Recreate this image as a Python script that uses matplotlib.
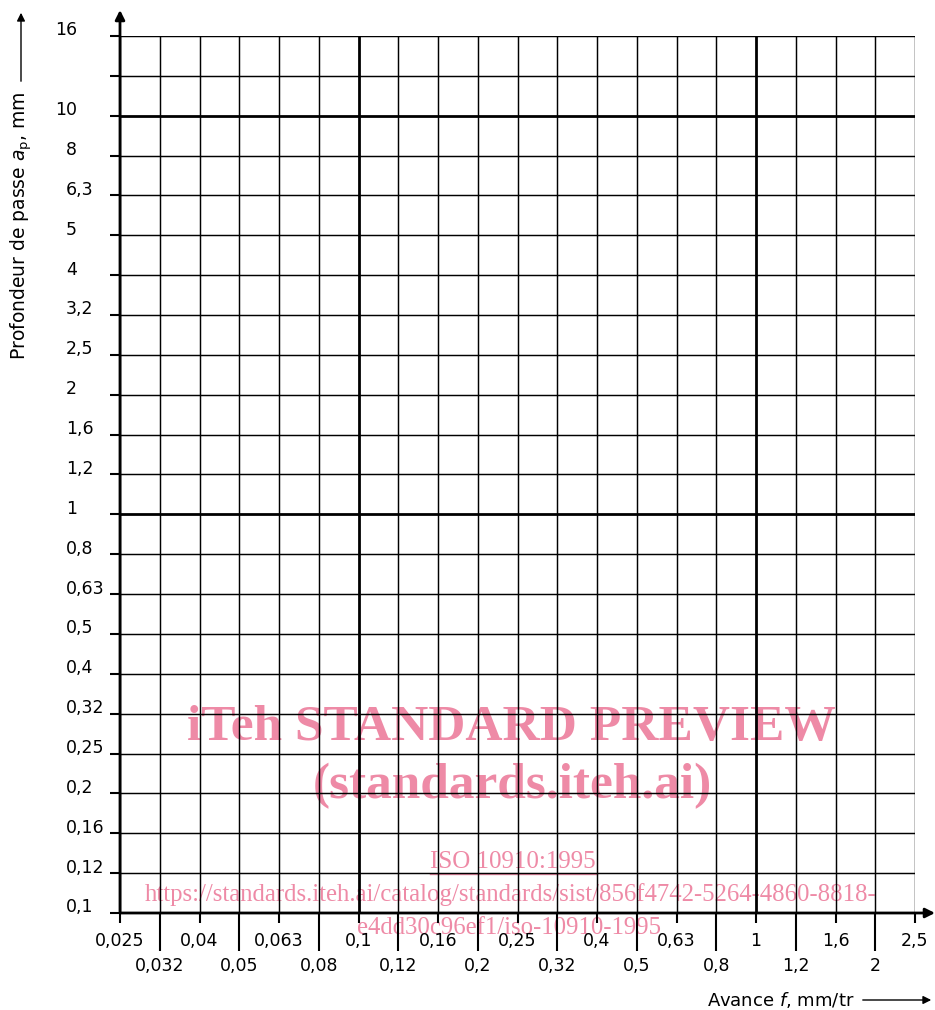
import numpy as np
import matplotlib
matplotlib.use("Agg")
import matplotlib.pyplot as plt

# Feed values on the x axis (mm/tr), equally spaced columns.
x_vals = [0.025, 0.032, 0.04, 0.05, 0.063, 0.08, 0.1, 0.12, 0.16, 0.2, 0.25,
          0.32, 0.4, 0.5, 0.63, 0.8, 1, 1.2, 1.6, 2, 2.5]
x_labels = ["0,025", "0,032", "0,04", "0,05", "0,063", "0,08", "0,1", "0,12",
            "0,16", "0,2", "0,25", "0,32", "0,4", "0,5", "0,63", "0,8", "1",
            "1,2", "1,6", "2", "2,5"]
# Depth of cut on the y axis (mm), equally spaced rows.
y_vals = [0.1, 0.12, 0.16, 0.2, 0.25, 0.32, 0.4, 0.5, 0.63, 0.8, 1, 1.2, 1.6,
          2, 2.5, 3.2, 4, 5, 6.3, 8, 10, 12.5, 16]
y_labels = ["0,1", "0,12", "0,16", "0,2", "0,25", "0,32", "0,4", "0,5", "0,63",
            "0,8", "1", "1,2", "1,6", "2", "2,5", "3,2", "4", "5", "6,3", "8",
            "10", "", "16"]
# Heavy grid lines
x_heavy = [0.1, 1]
y_heavy = [1, 10]

W, H = 935, 1010
fig = plt.figure(figsize=(W / 100, H / 100), dpi=100)
left, right, top, bottom = 120, 915, 36, 913
ax = fig.add_axes([left / W, 1 - bottom / H, (right - left) / W, (bottom - top) / H])
ax.patch.set_visible(False)

xi = np.arange(len(x_vals))
yi = np.arange(len(y_vals))
ax.set_xlim(0, len(x_vals) - 1)
ax.set_ylim(0, len(y_vals) - 1)

for i, v in zip(xi, x_vals):
    lw = 2.0 if v in x_heavy else 1.05
    ax.axvline(i, color="black", lw=lw, zorder=1)
for i, v in zip(yi, y_vals):
    lw = 2.0 if v in y_heavy else 1.05
    ax.axhline(i, color="black", lw=lw, zorder=1)

for s in ax.spines.values():
    s.set_visible(False)

# y ticks and labels
ax.set_yticks(yi)
ax.set_yticklabels([])
ax.tick_params(axis="y", direction="out", length=7, width=1.5, color="black")
ytr = ax.get_yaxis_transform()
for i, lab in zip(yi, y_labels):
    xpos = -0.082 if len(lab) == 2 and "," not in lab else -0.068
    ax.text(xpos, i + 0.14, lab, transform=ytr, ha="left", va="center",
            fontsize=12.5, family="DejaVu Sans")

# x ticks: short for upper row, long for lower row
ax.set_xticks(xi[::2])
ax.set_xticks(xi[1::2], minor=True)
ax.set_xticklabels([])
ax.tick_params(axis="x", which="major", direction="out", length=7, width=1.5)
ax.tick_params(axis="x", which="minor", direction="out", length=27, width=1.5)
xtr = ax.get_xaxis_transform()
for i, lab in zip(xi, x_labels):
    ypos = -0.032 if i % 2 == 0 else -0.06
    ax.text(i, ypos, lab, transform=xtr, ha="center", va="center",
            fontsize=12.5, family="DejaVu Sans")

# axes with arrows
ax.annotate("", xy=(0, 1 + 26 / 877), xytext=(0, 0), xycoords="axes fraction",
            arrowprops=dict(arrowstyle="-|>", color="black", lw=2.0,
                            mutation_scale=14, shrinkA=0, shrinkB=0),
            annotation_clip=False)
ax.annotate("", xy=(1 + 20 / 795, 0), xytext=(0, 0), xycoords="axes fraction",
            arrowprops=dict(arrowstyle="-|>", color="black", lw=2.0,
                            mutation_scale=14, shrinkA=0, shrinkB=0),
            annotation_clip=False)

# axis titles with arrows
fig.text(21 / W, 1 - 226 / H, r"Profondeur de passe $a_{\rm p}$, mm", rotation=90,
         ha="center", va="center", fontsize=13.5, family="DejaVu Sans")
fig.add_artist(matplotlib.patches.FancyArrowPatch(
    (21 / W, 1 - 84 / H), (21 / W, 1 - 10 / H), transform=fig.transFigure,
    arrowstyle="-|>", mutation_scale=12, color="black", lw=1.0))
fig.text(781 / W, 1 - 1000 / H, r"Avance $f$, mm/tr", ha="center", va="center",
         fontsize=13, family="DejaVu Sans")
fig.add_artist(matplotlib.patches.FancyArrowPatch(
    (860 / W, 1 - 1000 / H), (934 / W, 1 - 1000 / H), transform=fig.transFigure,
    arrowstyle="-|>", mutation_scale=12, color="black", lw=1.0))

# watermark (under the grid lines)
pink = "#ee8aa6"
serif = "Liberation Serif"
fig.text(511 / W, 1 - 728 / H, "iTeh STANDARD PREVIEW", ha="center", va="center",
         fontsize=37, fontweight="bold", color=pink, family=serif, zorder=-1)
fig.text(512 / W, 1 - 786 / H, "(standards.iteh.ai)", ha="center", va="center",
         fontsize=37, fontweight="bold", color=pink, family=serif, zorder=-1)
fig.text(513 / W, 1 - 862 / H, "ISO 10910:1995", ha="center", va="center",
         fontsize=18, color=pink, family=serif, zorder=-1)
fig.add_artist(matplotlib.lines.Line2D([430 / W, 597 / W], [1 - 874 / H, 1 - 874 / H],
                                       transform=fig.transFigure, color=pink, lw=1.0,
                                       zorder=-1))
fig.text(511 / W, 1 - 895 / H,
         "https://standards.iteh.ai/catalog/standards/sist/856f4742-5264-4860-8818-",
         ha="center", va="center", fontsize=17.8, color=pink, family=serif, zorder=-1)
fig.text(509 / W, 1 - 928 / H, "e4dd30c96ef1/iso-10910-1995", ha="center", va="center",
         fontsize=17.8, color=pink, family=serif, zorder=-1)

fig.savefig("out.png", dpi=100)
